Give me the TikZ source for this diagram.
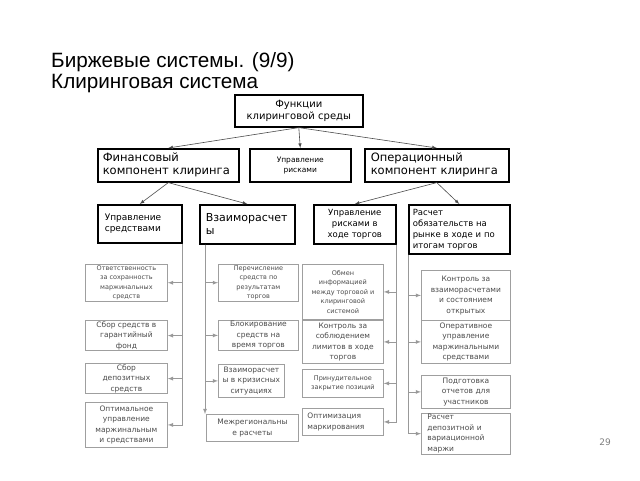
\documentclass[tikz,border=0pt]{standalone}
\usepackage{fontspec}
\setmainfont{DejaVu Sans}
\newfontfamily\titlefont{Liberation Sans}
\usetikzlibrary{positioning,arrows}
\tikzset{bigbox/.style={draw,line width=1.6pt,inner sep=2pt,anchor=north west},
smallbox/.style={draw=gray!75,line width=0.8pt,inner sep=1pt,anchor=north west,text=black!70,align=center,font=\fontsize{7.5}{10.5}\selectfont},
dense/.style={font=\fontsize{6.5}{9.5}\selectfont},
arr/.style={->,>=latex,draw=black!70,line width=0.6pt},
subarr/.style={->,>=latex,draw=gray!80,line width=0.8pt},}

\begin{document}
\begin{tikzpicture}[x=1pt,y=-1pt]
\useasboundingbox (0,0) rectangle (640,480);
\fill[white] (0,0) rectangle (640,480);
% title
\node[anchor=base west,inner sep=0,font=\titlefont\fontsize{20.7}{24}\selectfont] (title1) at (51,67) {Биржевые системы. (9/9)};
\node[anchor=base west,inner sep=0,font=\titlefont\fontsize{20.7}{24}\selectfont] (title2) at (51,88) {Клиринговая система};
% top levels
\node[bigbox,minimum width=128,minimum height=32,text width=120,align=center,font=\fontsize{10}{12}\selectfont] (func) at (234,94) {Функции\\клиринговой среды};
\node[bigbox,minimum width=141,minimum height=33,text width=131,align=left,font=\fontsize{11.5}{13}\selectfont] (fin) at (97,148) {Финансовый\\компонент клиринга};
\node[bigbox,minimum width=101,minimum height=33,text width=90,align=center,font=\fontsize{7.5}{9.5}\selectfont] (risk) at (249,148) {Управление\\рисками};
\node[bigbox,minimum width=144,minimum height=33,text width=132,align=left,font=\fontsize{11.5}{13}\selectfont] (oper) at (364,148) {Операционный\\компонент клиринга};
\node[bigbox,minimum width=84,minimum height=38,text width=70,align=left,font=\fontsize{9}{11.5}\selectfont] (sred) at (97,204) {Управление\\средствами};
\node[bigbox,minimum width=95,minimum height=39,text width=83,align=left,font=\fontsize{11}{13}\selectfont] (vzaim) at (199,204) {Взаиморасчет\\ы};
\node[bigbox,minimum width=82,minimum height=39,text width=76,align=center,font=\fontsize{8.5}{11}\selectfont] (riskt) at (313,204) {Управление\\рисками в\\ходе торгов};
\node[bigbox,minimum width=101,minimum height=49,text width=93,align=left,font=\fontsize{8.5}{11}\selectfont] (rasch) at (408,204) {Расчет\\обязательств на\\рынке в ходе и по\\итогам торгов};
\draw[arr] (func.south) -- (fin.north);
\draw[arr] (func.south) -- (risk.north);
\draw[arr] (func.south) -- (oper.north);
\draw[arr] (fin.south) -- (sred.north);
\draw[arr] (fin.south) -- (vzaim.north);
\draw[arr] (oper.south) -- (riskt.north);
\draw[arr] (oper.south) -- (rasch.north);
% funds column
\node[smallbox,dense,minimum width=82,minimum height=34] (a1) at (85,264) {Ответственность\\за сохранность\\маржинальных\\средств};
\node[smallbox,minimum width=82,minimum height=30] (a2) at (85,320) {Сбор средств в\\гарантийный\\фонд};
\node[smallbox,minimum width=82,minimum height=29] (a3) at (85,363) {Сбор\\депозитных\\средств};
\node[smallbox,minimum width=82,minimum height=45] (a4) at (85,402) {Оптимальное\\управление\\маржинальным\\и средствами};
% settlement column
\node[smallbox,dense,minimum width=80,minimum height=34] (b1) at (218,264) {Перечисление\\средств по\\результатам\\торгов};
\node[smallbox,minimum width=80,minimum height=30] (b2) at (218,320) {Блокирование\\средств на\\время торгов};
\node[smallbox,minimum width=66,minimum height=33] (b3) at (218,364) {Взаиморасчет\\ы в кризисных\\ситуациях};
\node[smallbox,minimum width=92,minimum height=27] (b4) at (206,414) {Межрегиональны\\е расчеты};
% risk column
\node[smallbox,dense,minimum width=81,minimum height=55] (c1) at (302,264) {Обмен\\информацией\\между торговой и\\клиринговой\\системой};
\node[smallbox,minimum width=81,minimum height=43] (c2) at (302,320) {Контроль за\\соблюдением\\лимитов в ходе\\торгов};
\node[smallbox,dense,minimum width=81,minimum height=28] (c3) at (302,369) {Принудительное\\закрытие позиций};
\node[smallbox,minimum width=81,minimum height=27,text width=71,align=left] (c4) at (302,408) {Оптимизация\\маркирования};
% obligations column
\node[smallbox,minimum width=89,minimum height=50] (d1) at (421,270) {Контроль за\\взаиморасчетами\\и состоянием\\открытых};
\node[smallbox,minimum width=89,minimum height=43] (d2) at (421,320) {Оперативное\\управление\\маржинальными\\средствами};
\node[smallbox,minimum width=89,minimum height=33] (d3) at (421,375) {Подготовка\\отчетов для\\участников};
\node[smallbox,minimum width=89,minimum height=33,text width=77,align=left] (d4) at (421,413) {Расчет\\депозитной и\\вариационной\\маржи};
% combs
\foreach \n in {a1,a2,a3,a4} {\draw[subarr] (sred.south east) |- (\n.east);}
\coordinate (vzfoot) at ([xshift=6pt]vzaim.south west);
\foreach \n in {b1,b2,b3} {\draw[subarr] (vzfoot) |- (\n.west);}
\draw[subarr] (vzfoot) -- (vzfoot |- b4.north);
\foreach \n in {c1,c2,c3,c4} {\draw[subarr] (riskt.south east) |- (\n.east);}
\foreach \n in {d1,d2,d3,d4} {\draw[subarr] (rasch.south west) |- (\n.west);}
\node[anchor=base east,inner sep=0,text=gray,font=\fontsize{9}{10}\selectfont] (pnum) at (611,445) {29};
\end{tikzpicture}
\end{document}
